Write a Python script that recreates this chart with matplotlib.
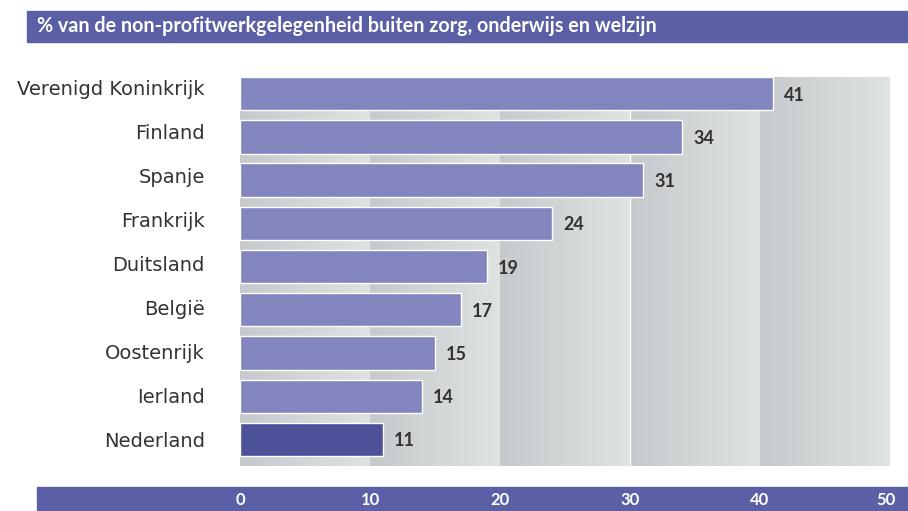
import numpy as np
import matplotlib.pyplot as plt
from matplotlib.colors import LinearSegmentedColormap
from matplotlib.patches import Rectangle
from matplotlib.transforms import blended_transform_factory

# data
landen = ['Verenigd Koninkrijk', 'Finland', 'Spanje', 'Frankrijk', 'Duitsland',
          'België', 'Oostenrijk', 'Ierland', 'Nederland']
waarden = [41, 34, 31, 24, 19, 17, 15, 14, 11]
ticks = [0, 10, 20, 30, 40, 50]
titel = '% van de non-profitwerkgelegenheid buiten zorg, onderwijs en welzijn'

paars = '#5a5fa6'
balk = '#8385be'
balk_nl = '#4c519a'
tekst = '#333333'

fig = plt.figure(figsize=(9.08, 5.11), dpi=100)
ax = fig.add_axes([240/908, 45/511, 650/908, 389/511])

# achtergrond: banden met verloop per 10 eenheden
cmap = LinearSegmentedColormap.from_list('band', ['#c6cacd', '#dee2e1'])
grad = np.linspace(0, 1, 256).reshape(1, -1)
for x0 in ticks[:-1]:
    ax.imshow(grad, cmap=cmap, aspect='auto', extent=[x0, x0 + 10, 9, 0], zorder=0)
ax.axvline(30, color='white', lw=1, zorder=1)

y = np.arange(len(landen))
kleuren = [balk_nl if l == 'Nederland' else balk for l in landen]
ax.barh(y, waarden, height=0.77, align='edge', color=kleuren,
        edgecolor='white', linewidth=1, zorder=2)

for yi, v in zip(y, waarden):
    ax.text(v + 0.85, yi + 0.42, str(v), ha='left', va='center', fontsize=13,
            fontweight='bold', color=tekst, family='Lato', zorder=3)

# landnamen, basislijn ongeveer op het midden van de balk
for yi, l in zip(y, landen):
    ax.text(-2.7, yi + 0.385 + 0.02 * (1 + yi), l, ha='right', va='baseline',
            fontsize=14, color=tekst, family='DejaVu Sans', clip_on=False)

ax.set_xlim(0, 50)
ax.set_ylim(9, 0)
ax.set_xticks([])
ax.set_yticks([])
for s in ax.spines.values():
    s.set_visible(False)

# titelbalk
fig.patches.append(Rectangle((27/908, 469/511), 1 - 27/908, 31/511,
                             transform=fig.transFigure, color=paars, zorder=-1))
fig.text(37/908, 484.5/511, titel, ha='left', va='center', fontsize=14.2,
         fontweight='bold', color='white', family='Lato')

# as-balk onderaan
fig.patches.append(Rectangle((37/908, 0), 1 - 37/908, 24/511,
                             transform=fig.transFigure, color=paars, zorder=-1))
trans = blended_transform_factory(ax.transData, fig.transFigure)
for t in ticks:
    ax.text(t - 0.3 if t == 50 else t, 11/511, str(t), transform=trans, ha='center',
            va='center', fontsize=12, fontweight='bold', color='white',
            family='Lato', clip_on=False)

fig.savefig('out.png', dpi=100)
